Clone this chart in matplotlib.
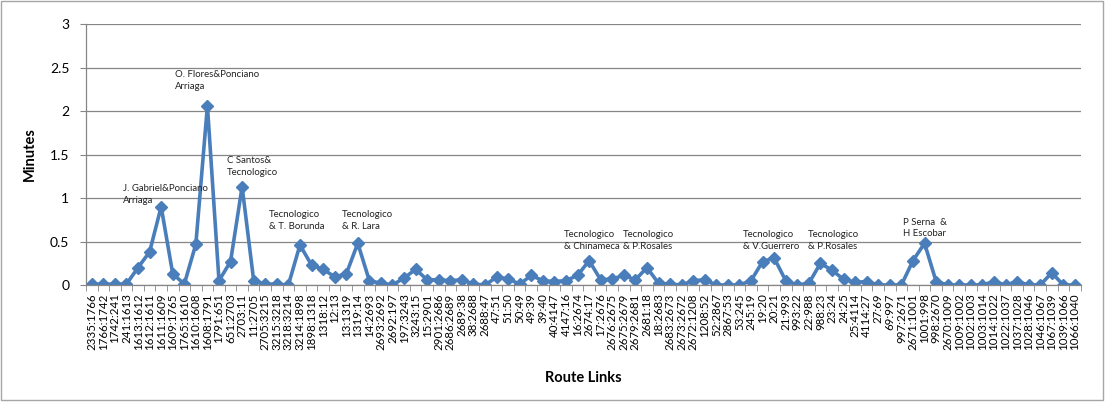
import matplotlib
matplotlib.use('Agg')
import matplotlib.pyplot as plt
from matplotlib.patches import Rectangle

# route links (from node : to node) and travel-time delay in minutes
links = ['2335:1766', '1766:1742', '1742:241', '241:1613', '1613:1612', '1612:1611',
         '1611:1609', '1609:1765', '1765:1610', '1610:1608', '1608:1791', '1791:651',
         '651:2703', '2703:11', '11:2705', '2705:3215', '3215:3218', '3218:3214',
         '3214:1898', '1898:1318', '1318:12', '12:13', '13:1319', '1319:14',
         '14:2693', '2693:2692', '2692:197', '197:3243', '3243:15', '15:2901',
         '2901:2686', '2686:2689', '2689:38', '38:2688', '2688:47', '47:51',
         '51:50', '50:49', '49:39', '39:40', '40:4147', '4147:16',
         '16:2674', '2674:17', '17:2676', '2676:2675', '2675:2679', '2679:2681',
         '2681:18', '18:2683', '2683:2673', '2673:2672', '2672:1208', '1208:52',
         '52:2867', '2867:53', '53:245', '245:19', '19:20', '20:21',
         '21:993', '993:22', '22:988', '988:23', '23:24', '24:25',
         '25:4114', '4114:27', '27:69', '69:997', '997:2671', '2671:1001',
         '1001:998', '998:2670', '2670:1009', '1009:1002', '1002:1003', '1003:1014',
         '1014:1022', '1022:1037', '1037:1028', '1028:1046', '1046:1067', '1067:1039',
         '1039:1066', '1066:1040']

minutes = [0.01, 0.01, 0.01, 0.01, 0.20, 0.38,
           0.90, 0.13, 0.01, 0.47, 2.06, 0.05,
           0.27, 1.13, 0.05, 0.01, 0.01, 0.0,
           0.46, 0.23, 0.18, 0.095, 0.125, 0.48,
           0.05, 0.02, 0.0, 0.08, 0.18, 0.06,
           0.06, 0.05, 0.06, 0.01, 0.0, 0.09,
           0.07, 0.01, 0.11, 0.05, 0.04, 0.05,
           0.11, 0.28, 0.06, 0.07, 0.11, 0.06,
           0.20, 0.02, 0.01, 0.0, 0.05, 0.06,
           0.0, 0.0, 0.0, 0.05, 0.27, 0.31,
           0.05, 0.0, 0.02, 0.25, 0.17, 0.065,
           0.03, 0.04, 0.0, 0.0, 0.0, 0.28,
           0.48, 0.04, 0.0, 0.0, 0.0, 0.0,
           0.04, 0.0, 0.04, 0.0, 0.0, 0.14,
           0.0, 0.0]

# intersection names: (x, y top-left in data units, text)
notes = [(7.2, 2.47, 'O. Flores&Ponciano\nArriaga'),
         (2.7, 1.16, 'J. Gabriel&Ponciano\nArriaga'),
         (11.65, 1.48, 'C Santos&\nTecnologico'),
         (15.35, 0.86, 'Tecnologico\n& T. Borunda'),
         (21.6, 0.86, 'Tecnologico\n& R. Lara'),
         (40.8, 0.63, 'Tecnologico\n& Chinameca'),
         (45.95, 0.63, 'Tecnologico\n& P.Rosales'),
         (56.3, 0.63, 'Tecnologico\n& V.Guerrero'),
         (61.9, 0.63, 'Tecnologico\n& P.Rosales'),
         (70.1, 0.77, 'P Serna  &\nH Escobar')]

plt.rcParams['font.family'] = ['Lato', 'DejaVu Sans']

fig = plt.figure(figsize=(11.05, 4.05), dpi=100)
ax = fig.add_axes([0.0778, 0.2963, 0.9002, 0.6444])

x = range(len(links))
ax.plot(x, minutes, color='#4A7EBB', linewidth=2.6, marker='D', markersize=6.5,
        markerfacecolor='#4A7EBB', markeredgecolor='#4A7EBB')

for nx, ny, txt in notes:
    ax.text(nx, ny, txt, fontsize=6.9, ha='left', va='top', linespacing=1.35, color='#222222')

ax.set_xlim(-0.5, len(links) - 0.5)
ax.set_ylim(0, 3)
ax.set_yticks([0, 0.5, 1, 1.5, 2, 2.5, 3])
ax.set_yticklabels(['0', '0.5', '1', '1.5', '2', '2.5', '3'], fontsize=10)
ax.yaxis.grid(True, color='#868686', linewidth=0.9)
ax.set_axisbelow(True)

ax.set_xticks(list(x))
ax.set_xticklabels(links, rotation=90, fontsize=8.3)
ax.set_xticks([i + 0.5 for i in range(-1, len(links))], minor=True)
ax.tick_params(axis='x', which='major', length=0, pad=6)
ax.tick_params(axis='x', which='minor', length=4, color='#868686', direction='out')
ax.tick_params(axis='y', length=4, color='#868686', direction='out', pad=8)

for side in ['top', 'right']:
    ax.spines[side].set_visible(False)
for side in ['left', 'bottom']:
    ax.spines[side].set_color('#868686')
    ax.spines[side].set_linewidth(0.9)

ax.set_ylabel('Minutes', fontsize=10.5, fontweight='bold', labelpad=9)
ax.set_xlabel('Route Links', fontsize=10.5, fontweight='bold', labelpad=15)

# chart frame
fig.patches.append(Rectangle((0.001, 0.012), 0.997, 0.985, transform=fig.transFigure,
                             fill=False, edgecolor='#A6A6A6', linewidth=1.0))

fig.savefig('out.png', dpi=100)
